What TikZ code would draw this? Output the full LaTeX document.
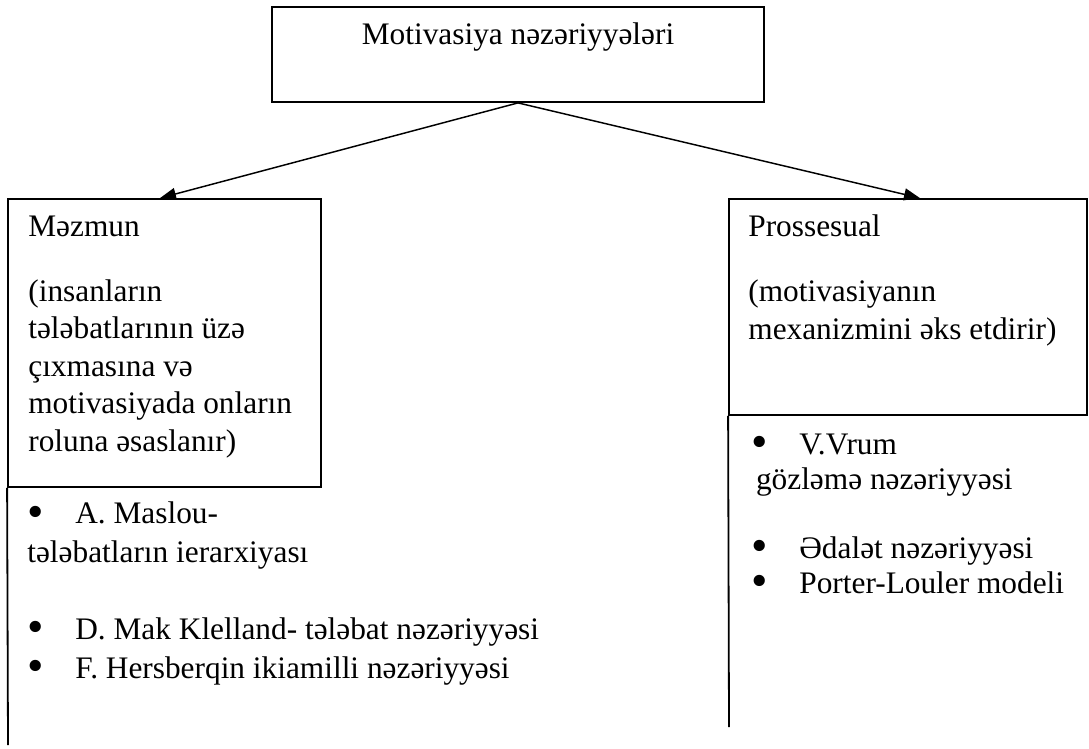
\documentclass[tikz,border=0pt]{standalone}
\usepackage{fontspec}
\setmainfont{Liberation Serif}
\usetikzlibrary{arrows.meta,positioning}

\newcommand{\itembullet}{\makebox[36pt][l]{\raisebox{-0.1em}[0pt][0pt]{\scalebox{1.5}{•}}}}

\begin{document}
\begin{tikzpicture}[
    x=0.75pt, y=-0.75pt,
    box/.style={rectangle, draw=black, line width=1.35pt, inner sep=0pt},
    txt/.style={inner sep=0pt, align=left, font=\fontsize{23.5}{28.2}\selectfont},
    leftlist/.style={inner sep=0pt, align=left, font=\fontsize{23.5}{28.9}\selectfont},
    rightlist/.style={inner sep=0pt, align=left, font=\fontsize{23.5}{26.25}\selectfont},
    arrow/.style={-{Triangle[length=12pt, width=9pt]}, line width=1.1pt},
    open/.style={line width=1.35pt}
]
\useasboundingbox (0,0) rectangle (1089,749);

% Level 1: Theories
\node[box, minimum width=369pt, minimum height=71.25pt] (theories) at (518,54.5) {};
\node[txt, anchor=base] (title) at ([yshift=-28.5pt]theories.north) {Motivasiya nəzəriyyələri};

% Level 2: Content and process boxes
\node[box, minimum width=234.75pt, minimum height=216pt] (content) at (164.5,343) {};
\node[box, minimum width=268.5pt, minimum height=162pt] (process) at (908,307) {};

\node[txt, below right=13pt and 15.75pt of content.north west] (contenttxt) {Məzmun\\[20.5pt](insanların\\tələbatlarının üzə\\çıxmasına və\\motivasiyada onların\\roluna əsaslanır)};
\node[txt, below right=12.5pt and 15pt of process.north west] (processtxt) {Prossesual\\[20.5pt](motivasiyanın\\mexanizmini əks etdirir)};

% Level 3: Open lists
\coordinate (contentend) at (8,745);
\coordinate (processend) at (729,727);
\draw[open] (content.south west) -- (contentend);
\draw[open] (process.south west) -- (processend);

\node[leftlist, below right=10.5pt and 15pt of content.south west] (contentlist) {\itembullet A. Maslou-\\tələbatların ierarxiyası\\[28.9pt]\itembullet D. Mak Klelland- tələbat nəzəriyyəsi\\\itembullet F. Hersberqin ikiamilli nəzəriyyəsi};
\node[rightlist, below right=13.3pt and 17.25pt of process.south west] (processlist) {\itembullet V.Vrum\\\hspace*{3.5pt}gözləmə nəzəriyyəsi\\[25.5pt]\itembullet Ədalət nəzəriyyəsi\\\itembullet Porter-Louler modeli};

% Connectors
\draw[arrow] (theories.south) -- ([xshift=-3.4pt]content.north);
\draw[arrow] (theories.south) -- ([xshift=9pt]process.north);

\end{tikzpicture}
\end{document}
